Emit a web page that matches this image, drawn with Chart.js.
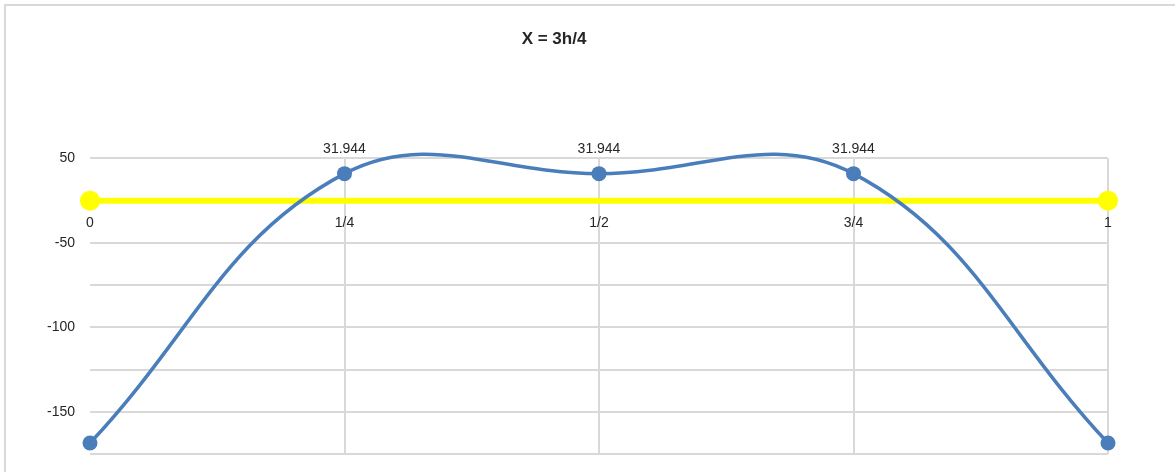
<!DOCTYPE html>
<html>
<head>
<meta charset="utf-8">
<script src="https://cdn.jsdelivr.net/npm/chart.js@4/dist/chart.umd.min.js"></script>
<style>
  html, body { margin: 0; padding: 0; background: #fff; }
  #wrap { position: relative; width: 1175px; height: 472px; overflow: hidden; }
  #frame { position: absolute; left: 4px; top: 4px; right: -10px; bottom: -10px;
           border-left: 2px solid #d9d9d9; border-top: 2px solid #d9d9d9; pointer-events: none; }
  canvas { position: absolute; left: 0; top: 0; }
</style>
</head>
<body>
<div id="wrap">
  <canvas id="c" width="1175" height="472"></canvas>
  <div id="frame"></div>
</div>
<script>
// ---- data ----
const categories = ['0', '1/4', '1/2', '3/4', '1'];
const momentValues = [-168.5, 31.944, 31.944, 31.944, -168.5];
const zeroLineValues = [0, 0, 0, 0, 0];
const showValueLabel = [false, true, true, true, false];
// value-axis gridlines (the picture's axis spacing is not uniform) and labelled ticks
const yGridValues = [-175, -150, -125, -100, -75, -50, 0, 50];
const yLabelValues = [50, -50, -100, -150];
const chartTitle = 'X = 3h/4';

// Value scale whose gridlines are evenly spaced on screen, as in the picture
class SegmentedScale extends Chart.LinearScale {
  static id = 'segmented';
  static defaults = Chart.LinearScale.defaults;
  _dec(v) {
    const a = yGridValues, n = a.length - 1;
    if (v <= a[0]) return ((v - a[0]) / (a[1] - a[0])) / n;
    for (let i = 0; i < n; i++) {
      if (v <= a[i + 1]) return (i + (v - a[i]) / (a[i + 1] - a[i])) / n;
    }
    return (n + (v - a[n]) / (a[n] - a[n - 1])) / n;
  }
  getPixelForValue(v) {
    if (v === null || v === undefined || isNaN(v)) return NaN;
    return this.getPixelForDecimal(this._dec(v));
  }
  getValueForPixel(p) {
    const a = yGridValues, n = a.length - 1;
    const d = this.getDecimalForPixel(p) * n;
    const i = Math.max(0, Math.min(n - 1, Math.floor(d)));
    return a[i] + (d - i) * (a[i + 1] - a[i]);
  }
}
Chart.register(SegmentedScale);

const FONT = "'Liberation Sans', Arial, sans-serif";
const TEXT = '#262626';
const BLUE = '#4a7ebb';

const valueLabels = {
  id: 'valueLabels',
  afterDatasetsDraw(chart) {
    const ctx = chart.ctx;
    const meta = chart.getDatasetMeta(0);
    ctx.save();
    ctx.font = '14px ' + FONT;
    ctx.fillStyle = TEXT;
    ctx.textAlign = 'center';
    ctx.textBaseline = 'middle';
    meta.data.forEach((pt, i) => {
      if (!showValueLabel[i]) return;
      ctx.fillText(momentValues[i].toFixed(3), pt.x, pt.y - 25);
    });
    ctx.restore();
  }
};

new Chart(document.getElementById('c'), {
  type: 'line',
  data: {
    labels: categories,
    datasets: [
      {
        label: 'M',
        data: momentValues,
        borderColor: BLUE,
        backgroundColor: BLUE,
        borderWidth: 3.5,
        tension: 0.4,
        capBezierPoints: false,
        clip: false,
        pointRadius: 7.5,
        pointHoverRadius: 7.5,
        pointBackgroundColor: BLUE,
        pointBorderColor: BLUE,
        pointBorderWidth: 0
      },
      {
        label: 'axis',
        data: zeroLineValues,
        borderColor: '#ffff00',
        backgroundColor: '#ffff00',
        borderWidth: 6,
        tension: 0,
        clip: false,
        pointRadius: [10, 0, 0, 0, 10],
        pointHoverRadius: [10, 0, 0, 0, 10],
        pointBackgroundColor: '#ffff00',
        pointBorderColor: '#ffff00',
        pointBorderWidth: 0
      }
    ]
  },
  options: {
    responsive: false,
    devicePixelRatio: 1,
    animation: false,
    layout: { padding: { top: 10, left: 0, right: 67, bottom: 18 } },
    plugins: {
      legend: { display: false },
      tooltip: { enabled: false },
      title: {
        display: true,
        text: chartTitle,
        color: TEXT,
        font: { family: FONT, size: 17, weight: 'bold' },
        padding: { top: 19, bottom: 109 }
      }
    },
    scales: {
      x: {
        type: 'category',
        offset: false,
        position: { y: 0 },
        grid: {
          drawTicks: false,
          color: (c) => c.index === 0 ? 'rgba(0,0,0,0)' : '#d9d9d9',
          lineWidth: 2
        },
        border: { display: false },
        ticks: {
          color: TEXT,
          font: { family: FONT, size: 14 },
          padding: 14,
          maxRotation: 0,
          autoSkip: false
        },
        afterFit: (s) => { s.height = 0; }
      },
      y: {
        type: 'segmented',
        min: -175,
        max: 50,
        afterBuildTicks: (s) => { s.ticks = yGridValues.map(v => ({ value: v })); },
        afterFit: (s) => { s.width = 90; s.paddingTop = 0; s.paddingBottom = 0; },
        grid: { drawTicks: false, color: '#d9d9d9', lineWidth: 2 },
        border: { display: false },
        ticks: {
          color: TEXT,
          font: { family: FONT, size: 14 },
          padding: 15,
          autoSkip: false,
          callback: (v) => yLabelValues.includes(v) ? String(v) : ''
        }
      }
    }
  },
  plugins: [valueLabels]
});
</script>
</body>
</html>
